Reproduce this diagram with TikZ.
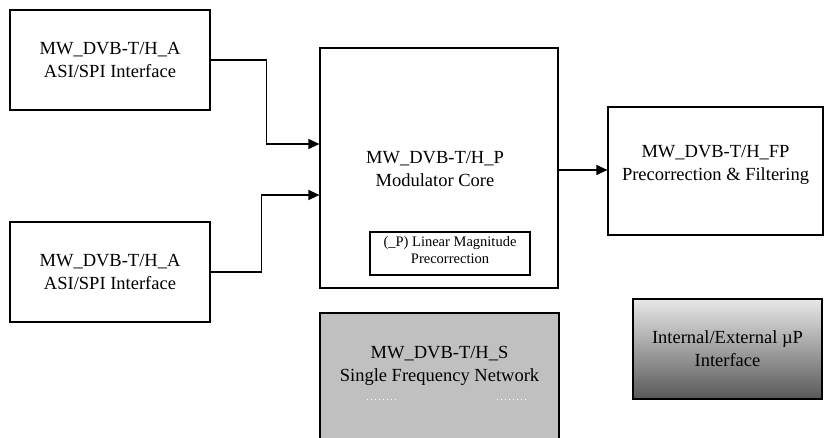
\documentclass[tikz,border=0pt]{standalone}
\usepackage{fontspec}
\setmainfont{Liberation Serif}
\usetikzlibrary{calc,arrows.meta}
\begin{document}
\begin{tikzpicture}[x=1pt,y=-1pt,
  blk/.style={draw=black,line width=1.2pt,minimum width=#1,inner sep=0pt,align=center,
    font=\fontsize{18.5}{23}\selectfont},
  lbl/.style={inner sep=0pt,align=center,font=\fontsize{18.5}{23}\selectfont},
  arr/.style={line width=1.4pt,-{Triangle[length=11pt,width=10pt]}}]
\useasboundingbox (0,0) rectangle (833,438);
% input boxes
\node[blk=200pt,minimum height=100pt] (A1) at (110,60) {MW\_DVB-T/H\_A\\ASI/SPI Interface};
\node[blk=200pt,minimum height=100pt] (A2) at (110,272) {MW\_DVB-T/H\_A\\ASI/SPI Interface};
% core
\node[blk=238pt,minimum height=240pt] (Core) at (439,168) {};
\node[lbl] (CoreL) at (435,169) {MW\_DVB-T/H\_P\\Modulator Core};
\node[draw=black,line width=1.2pt,minimum width=160pt,minimum height=43pt,inner sep=0pt] (Inner) at (450,253.5) {};
\node[inner sep=0pt,align=center,font=\fontsize{14.5}{16.5}\selectfont] (InnerL) at (450,250) {(\_P) Linear Magnitude\\Precorrection};
% FP
\node[blk=215pt,minimum height=128pt] (FP) at (715.5,171) {};
\node[lbl] (FPL) at (715.5,165) {MW\_DVB-T/H\_FP\\Precorrection \& Filtering};
% SFN
\node[blk=239pt,minimum height=134pt,fill={rgb,255:red,192;green,192;blue,192}] (S) at (439.5,380) {};
\node[lbl] (SL) at (439.5,366) {MW\_DVB-T/H\_S\\Single Frequency Network};
\draw[white,line width=0.8pt,dash pattern=on 1pt off 3pt] ($(S.west)+(48,19)$) coordinate (d1) -- ($(S.west)+(80,19)$) coordinate (d2);
\draw[white,line width=0.8pt,dash pattern=on 1pt off 3pt] ($(S.west)+(178,19)$) coordinate (d3) -- ($(S.west)+(210,19)$) coordinate (d4);
% uP
\node[blk=189pt,minimum height=100pt,top color={rgb,255:red,232;green,232;blue,232},bottom color={rgb,255:red,88;green,88;blue,88}] (UP) at (727.5,349) {Internal/External µP\\Interface};
% connectors
\draw[arr] (A1.east) -| ($(Core.west)+(-53,-24)$) -- ($(Core.west)+(0,-24)$);
\draw[arr] (A2.east) -| ($(Core.west)+(-58,27)$) -- ($(Core.west)+(0,27)$);
\draw[arr] ($(Core.east)+(0,2)$) -- ($(FP.west)+(0,-1)$);
\end{tikzpicture}
\end{document}
